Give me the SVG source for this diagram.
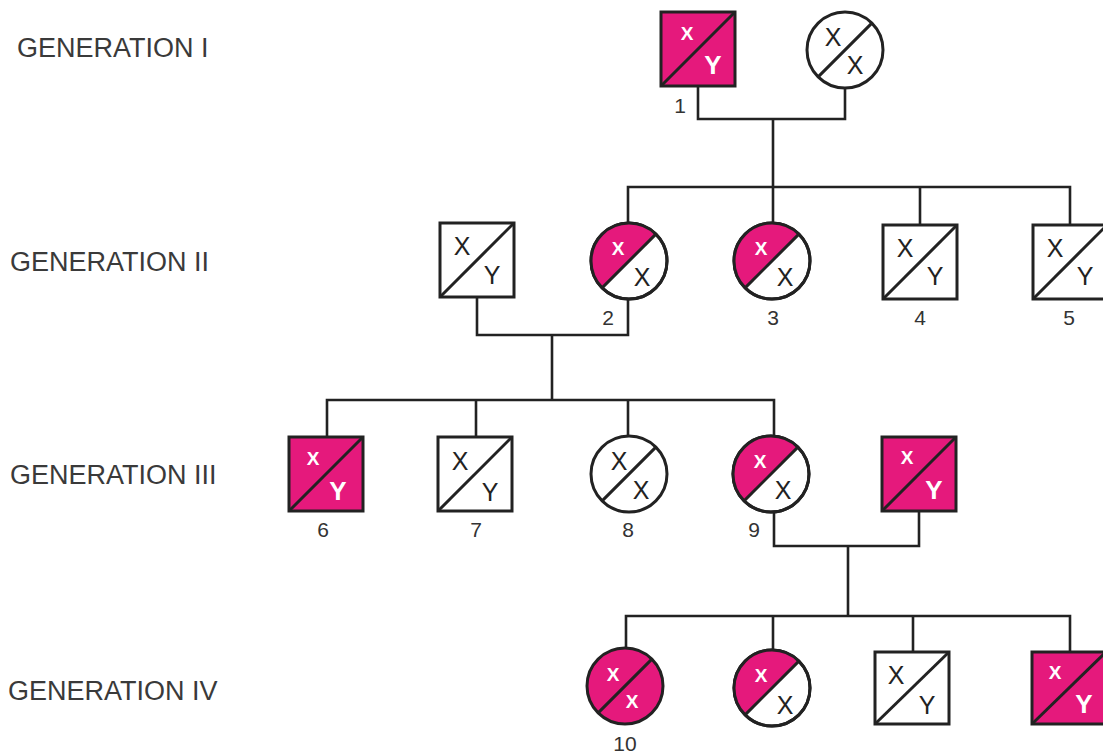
<svg xmlns="http://www.w3.org/2000/svg" width="1103" height="754" viewBox="0 0 1103 754">
<style>
.ln{fill:none;stroke:#222;stroke-width:2.6}
.sym{stroke:#222;stroke-width:3}
.w{fill:#fff}
.p{fill:#E5197C}
.lbl{font-family:"Liberation Sans",Arial,sans-serif;font-size:27px;fill:#3a3a3a}
.num{font-family:"Liberation Sans",Arial,sans-serif;font-size:21px;fill:#333;text-anchor:middle}
.bk{font-family:"Liberation Sans",Arial,sans-serif;font-size:25px;fill:#222;text-anchor:middle}
.wx{font-family:"Liberation Sans",Arial,sans-serif;font-size:19px;font-weight:bold;fill:#fff;text-anchor:middle}
.wy{font-family:"Liberation Sans",Arial,sans-serif;font-size:26px;font-weight:bold;fill:#fff;text-anchor:middle}
</style>
<rect width="1103" height="754" fill="#fff"/>
<g id="labels">
<text class="lbl" x="17" y="57">GENERATION I</text>
<text class="lbl" x="10" y="271">GENERATION II</text>
<text class="lbl" x="10" y="484">GENERATION III</text>
<text class="lbl" x="8" y="700">GENERATION IV</text>
</g>
<g id="connectors" class="ln">
<polyline points="698,86 698,119 845,119 845,88"/>
<line x1="773" y1="119" x2="773" y2="187"/>
<polyline points="628,223 628,187 1070,187 1070,225"/>
<line x1="773" y1="187" x2="773" y2="223"/>
<line x1="920" y1="187" x2="920" y2="225"/>
<polyline points="477,298 477,335 628,335 628,299"/>
<line x1="552" y1="335" x2="552" y2="400"/>
<polyline points="327,437 327,400 774,400 774,436"/>
<line x1="476" y1="400" x2="476" y2="437"/>
<line x1="628" y1="400" x2="628" y2="436"/>
<polyline points="774,512 774,546 919,546 919,510"/>
<line x1="848" y1="546" x2="848" y2="616"/>
<polyline points="626,650 626,616 1070,616 1070,651"/>
<line x1="773" y1="616" x2="773" y2="650"/>
<line x1="913" y1="616" x2="913" y2="651"/>
</g>
<g id="I-1" transform="translate(698,49)">
<rect x="-37" y="-37" width="74" height="74" class="sym p"/>
<line x1="-37" y1="37" x2="37" y2="-37" class="sym"/>
<text class="wx" x="-11" y="-9">X</text><text class="wy" x="15" y="25">Y</text>
<text class="num" x="-18" y="64">1</text>
</g>
<g id="I-2" transform="translate(845,50)">
<circle r="38" class="sym w"/>
<line x1="-26.9" y1="26.9" x2="26.9" y2="-26.9" class="sym"/>
<text class="bk" x="-12" y="-4">X</text><text class="bk" x="10" y="24">X</text>
</g>
<g id="II-1" transform="translate(477,260)">
<rect x="-37" y="-37" width="74" height="74" class="sym w"/>
<line x1="-37" y1="37" x2="37" y2="-37" class="sym"/>
<text class="bk" x="-15" y="-5">X</text><text class="bk" x="15" y="24">Y</text>
</g>
<g id="II-2" transform="translate(629,261)">
<circle r="38" class="sym w"/>
<path d="M-26.9,26.9 L26.9,-26.9 A38,38 0 0 0 -26.9,26.9 Z" class="p"/>
<circle r="38" class="sym" fill="none"/>
<line x1="-26.9" y1="26.9" x2="26.9" y2="-26.9" class="sym"/>
<text class="wx" x="-11" y="-6">X</text><text class="bk" x="13" y="25">X</text>
<text class="num" x="-21" y="64">2</text>
</g>
<g id="II-3" transform="translate(772,261)">
<circle r="38" class="sym w"/>
<path d="M-26.9,26.9 L26.9,-26.9 A38,38 0 0 0 -26.9,26.9 Z" class="p"/>
<circle r="38" class="sym" fill="none"/>
<line x1="-26.9" y1="26.9" x2="26.9" y2="-26.9" class="sym"/>
<text class="wx" x="-11" y="-6">X</text><text class="bk" x="13" y="25">X</text>
<text class="num" x="1" y="64">3</text>
</g>
<g id="II-4" transform="translate(920,262)">
<rect x="-37" y="-37" width="74" height="74" class="sym w"/>
<line x1="-37" y1="37" x2="37" y2="-37" class="sym"/>
<text class="bk" x="-15" y="-5">X</text><text class="bk" x="15" y="23">Y</text>
<text class="num" x="0" y="63">4</text>
</g>
<g id="II-5" transform="translate(1070,262)">
<rect x="-37" y="-37" width="74" height="74" class="sym w"/>
<line x1="-37" y1="37" x2="37" y2="-37" class="sym"/>
<text class="bk" x="-15" y="-5">X</text><text class="bk" x="15" y="23">Y</text>
<text class="num" x="-1" y="63">5</text>
</g>
<g id="III-6" transform="translate(326,474)">
<rect x="-37" y="-37" width="74" height="74" class="sym p"/>
<line x1="-37" y1="37" x2="37" y2="-37" class="sym"/>
<text class="wx" x="-13" y="-9">X</text><text class="wy" x="12" y="26">Y</text>
<text class="num" x="-3" y="63">6</text>
</g>
<g id="III-7" transform="translate(475,474)">
<rect x="-37" y="-37" width="74" height="74" class="sym w"/>
<line x1="-37" y1="37" x2="37" y2="-37" class="sym"/>
<text class="bk" x="-15" y="-4">X</text><text class="bk" x="15" y="27">Y</text>
<text class="num" x="1" y="63">7</text>
</g>
<g id="III-8" transform="translate(629,474)">
<circle r="38" class="sym w"/>
<line x1="-26.9" y1="26.9" x2="26.9" y2="-26.9" class="sym"/>
<text class="bk" x="-10" y="-4">X</text><text class="bk" x="12" y="25">X</text>
<text class="num" x="-1" y="63">8</text>
</g>
<g id="III-9" transform="translate(771,474)">
<circle r="38" class="sym w"/>
<path d="M-26.9,26.9 L26.9,-26.9 A38,38 0 0 0 -26.9,26.9 Z" class="p"/>
<circle r="38" class="sym" fill="none"/>
<line x1="-26.9" y1="26.9" x2="26.9" y2="-26.9" class="sym"/>
<text class="wx" x="-11" y="-6">X</text><text class="bk" x="12" y="25">X</text>
<text class="num" x="-17" y="63">9</text>
</g>
<g id="III-10" transform="translate(919,474)">
<rect x="-37" y="-37" width="74" height="74" class="sym p"/>
<line x1="-37" y1="37" x2="37" y2="-37" class="sym"/>
<text class="wx" x="-12" y="-10">X</text><text class="wy" x="15" y="25">Y</text>
</g>
<g id="IV-10" transform="translate(625,686)">
<circle r="38" class="sym p"/>
<line x1="-26.9" y1="26.9" x2="26.9" y2="-26.9" class="sym"/>
<text class="wx" x="-12" y="-5">X</text><text class="wx" x="7" y="22">X</text>
<text class="num" x="0" y="65">10</text>
</g>
<g id="IV-2" transform="translate(772,688)">
<circle r="38" class="sym w"/>
<path d="M-26.9,26.9 L26.9,-26.9 A38,38 0 0 0 -26.9,26.9 Z" class="p"/>
<circle r="38" class="sym" fill="none"/>
<line x1="-26.9" y1="26.9" x2="26.9" y2="-26.9" class="sym"/>
<text class="wx" x="-11" y="-6">X</text><text class="bk" x="13" y="26">X</text>
</g>
<g id="IV-3" transform="translate(912,688)">
<rect x="-37" y="-36" width="74" height="72" class="sym w"/>
<line x1="-37" y1="36" x2="37" y2="-36" class="sym"/>
<text class="bk" x="-16" y="-4">X</text><text class="bk" x="15" y="26">Y</text>
</g>
<g id="IV-4" transform="translate(1069,688)">
<rect x="-37" y="-36" width="74" height="72" class="sym p"/>
<line x1="-37" y1="36" x2="37" y2="-36" class="sym"/>
<text class="wx" x="-14" y="-9">X</text><text class="wy" x="15" y="25">Y</text>
</g>
</svg>
